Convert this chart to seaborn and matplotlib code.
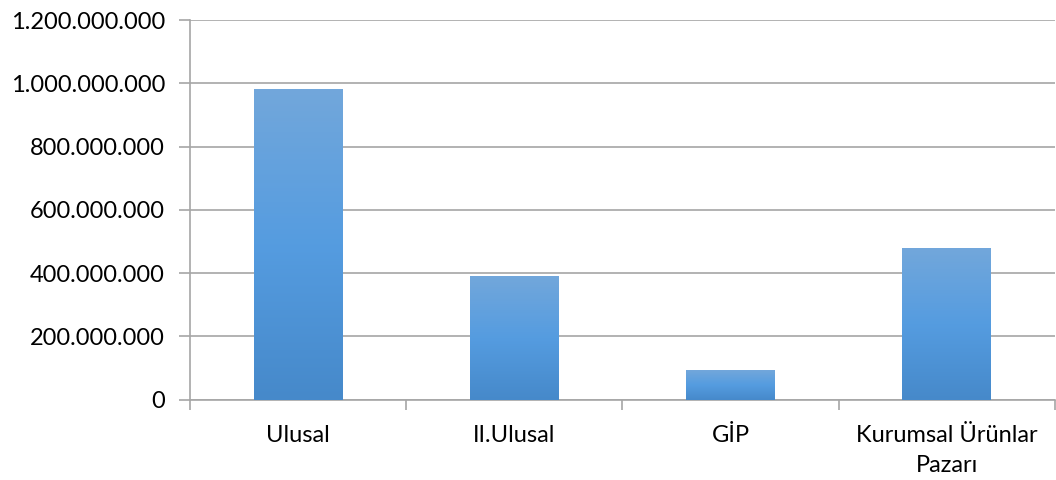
import numpy as np
import pandas as pd
import matplotlib
matplotlib.use("Agg")
import matplotlib.pyplot as plt
from matplotlib.colors import LinearSegmentedColormap
from matplotlib.ticker import FuncFormatter, FixedLocator
import seaborn as sns

# dane
kategorie = ["Ulusal", "II.Ulusal", "GİP", "Kurumsal Ürünlar\nPazarı"]
wartosci = [983000000, 390000000, 93000000, 478000000]

df = pd.DataFrame({"kategoria": kategorie, "wartosc": wartosci})

sns.set_theme(style="white")
plt.rcParams['font.family'] = ['Lato', 'DejaVu Sans']

fig = plt.figure(figsize=(10.56, 4.8), dpi=100)
ax = fig.add_axes([0.1799, 0.1677, 0.8191, 0.7906])

sns.barplot(data=df, x="kategoria", y="wartosc", color="#5B9BD5", width=0.41, ax=ax, zorder=3)

# gradient na słupkach jak w Excelu
cmap = LinearSegmentedColormap.from_list("grad", ["#4689CA", "#559CE0", "#72A7DB"])
grad = np.linspace(0, 1, 256).reshape(-1, 1)
for p in ax.patches:
    x0, y0 = p.get_x(), p.get_y()
    w, h = p.get_width(), p.get_height()
    p.set_facecolor("none")
    p.set_edgecolor("none")
    im = ax.imshow(grad, cmap=cmap, aspect="auto", origin="lower",
                   extent=[x0, x0 + w, y0, y0 + h], zorder=3)
    im.set_clip_path(p)

ax.set_xlim(-0.5, 3.5)
ax.set_ylim(0, 1200000000)
ax.set_yticks(np.arange(0, 1200000001, 200000000))
ax.yaxis.set_major_formatter(FuncFormatter(lambda v, pos: f"{int(v):,}".replace(",", ".")))

ax.grid(axis="y", color="#A6A6A6", linewidth=1.2, zorder=0)
ax.set_axisbelow(True)
for s in ["top", "right"]:
    ax.spines[s].set_visible(False)
for s in ["left", "bottom"]:
    ax.spines[s].set_color("#A6A6A6")
    ax.spines[s].set_linewidth(1.2)

ax.xaxis.set_minor_locator(FixedLocator([-0.5, 0.5, 1.5, 2.5, 3.5]))
ax.tick_params(axis="x", which="major", length=0, pad=18, labelsize=17, labelcolor="black")
ax.tick_params(axis="x", which="minor", bottom=True, length=7, width=1.2, color="#A6A6A6")
ax.tick_params(axis="y", left=True, length=8, width=1.2, color="#A6A6A6", labelsize=17,
               labelcolor="black", pad=10)
for t in ax.get_xticklabels():
    t.set_linespacing(1.55)
ax.set_xlabel("")
ax.set_ylabel("")

fig.savefig("out.png", dpi=100)
